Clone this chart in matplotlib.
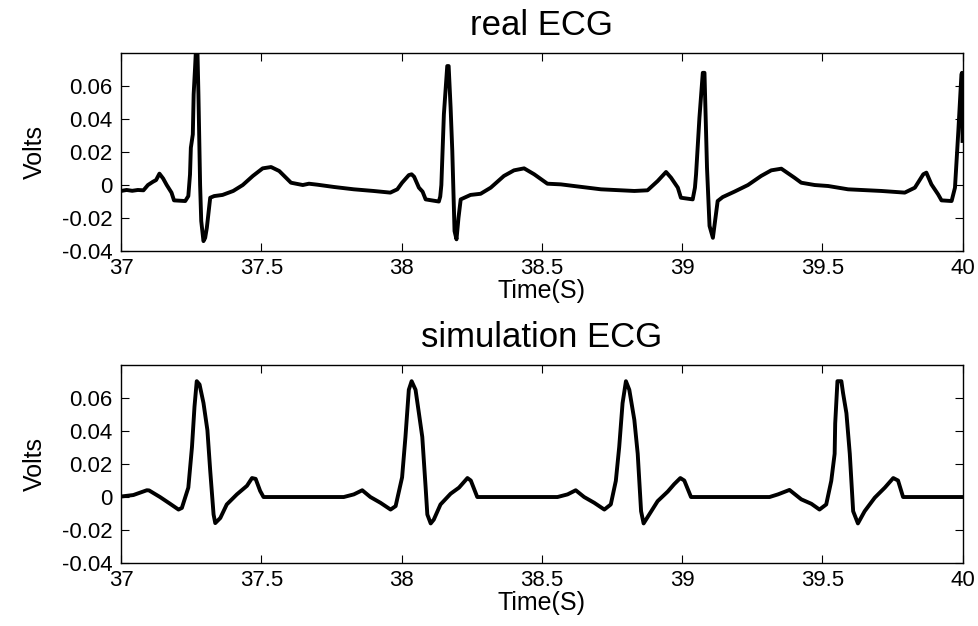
import matplotlib
matplotlib.use('Agg')
from matplotlib import pyplot as plt

plt.rcParams['font.family'] = ['Liberation Sans', 'DejaVu Sans']
plt.rcParams['axes.unicode_minus'] = False

# real ECG (time in s, volts)
t_real = [37.000, 37.020, 37.040, 37.060, 37.080, 37.096, 37.114, 37.125, 37.137, 37.150,
          37.163, 37.180, 37.189, 37.229, 37.240, 37.246, 37.249, 37.256, 37.259, 37.264,
          37.268, 37.272, 37.276, 37.282, 37.286, 37.294, 37.300, 37.306, 37.318, 37.332,
          37.362, 37.400, 37.434, 37.470, 37.505, 37.535, 37.564, 37.606, 37.648, 37.670,
          37.700, 37.760, 37.830, 37.900, 37.960, 37.985, 38.002, 38.026, 38.036, 38.045,
          38.062, 38.075, 38.086, 38.133, 38.138, 38.142, 38.151, 38.163, 38.168, 38.175,
          38.181, 38.189, 38.196, 38.203, 38.211, 38.246, 38.282, 38.318, 38.365, 38.401,
          38.437, 38.473, 38.520, 38.568, 38.615, 38.711, 38.830, 38.877, 38.913, 38.943,
          38.961, 38.985, 38.996, 39.038, 39.046, 39.050, 39.062, 39.074, 39.080, 39.089,
          39.098, 39.110, 39.127, 39.145, 39.187, 39.235, 39.282, 39.318, 39.354, 39.401,
          39.425, 39.473, 39.521, 39.592, 39.711, 39.794, 39.830, 39.860, 39.871, 39.889,
          39.913, 39.925, 39.961, 39.973, 39.985, 39.996, 39.998, 40.000]
v_real = [-0.0036, -0.0030, -0.0035, -0.0030, -0.0032, 0.0000, 0.0020, 0.0030, 0.0069, 0.0040,
          0.0000, -0.0046, -0.0093, -0.0097, -0.0067, 0.0064, 0.0226, 0.0307, 0.0550, 0.0710,
          0.0850, 0.0850, 0.0550, 0.0000, -0.0218, -0.0340, -0.0320, -0.0259, -0.0077, -0.0067,
          -0.0060, -0.0036, 0.0000, 0.0055, 0.0101, 0.0109, 0.0085, 0.0014, 0.0000, 0.0008,
          0.0002, -0.0012, -0.0026, -0.0036, -0.0046, -0.0026, 0.0014, 0.0060, 0.0065, 0.0050,
          -0.0016, -0.0040, -0.0087, -0.0100, -0.0070, 0.0000, 0.0428, 0.0721, 0.0721, 0.0469,
          0.0206, -0.0279, -0.0329, -0.0200, -0.0087, -0.0060, -0.0053, -0.0016, 0.0055, 0.0089,
          0.0101, 0.0065, 0.0008, 0.0004, -0.0006, -0.0026, -0.0036, -0.0032, 0.0024, 0.0079,
          0.0044, -0.0016, -0.0077, -0.0087, -0.0016, 0.0065, 0.0408, 0.0680, 0.0680, 0.0105,
          -0.0248, -0.0320, -0.0097, -0.0073, -0.0040, 0.0000, 0.0055, 0.0089, 0.0099, 0.0044,
          0.0014, 0.0000, -0.0006, -0.0026, -0.0036, -0.0046, -0.0016, 0.0065, 0.0075, 0.0004,
          -0.0057, -0.0093, -0.0097, -0.0016, 0.0327, 0.0670, 0.0680, 0.0267]

# simulated ECG
t_sim = [37.000, 37.044, 37.092, 37.100, 37.139, 37.175, 37.205, 37.217, 37.240, 37.253,
         37.262, 37.270, 37.280, 37.294, 37.308, 37.318, 37.330, 37.336, 37.354, 37.377,
         37.413, 37.449, 37.467, 37.480, 37.496, 37.508, 37.794, 37.830, 37.860, 37.889,
         37.925, 37.961, 37.979, 38.002, 38.014, 38.026, 38.036, 38.050, 38.062, 38.074,
         38.086, 38.092, 38.104, 38.115, 38.139, 38.175, 38.205, 38.235, 38.247, 38.270,
         38.556, 38.592, 38.621, 38.651, 38.687, 38.723, 38.746, 38.764, 38.776, 38.788,
         38.800, 38.812, 38.830, 38.842, 38.854, 38.863, 38.883, 38.913, 38.949, 38.972,
         38.994, 39.008, 39.032, 39.312, 39.342, 39.383, 39.425, 39.461, 39.490, 39.514,
         39.532, 39.544, 39.546, 39.554, 39.568, 39.574, 39.586, 39.598, 39.610, 39.627,
         39.651, 39.687, 39.723, 39.753, 39.770, 39.788, 40.000]
v_sim = [0.0003, 0.0012, 0.0041, 0.0040, 0.0000, -0.0041, -0.0076, -0.0066, 0.0057, 0.0303,
         0.0548, 0.0702, 0.0682, 0.0570, 0.0405, 0.0160, -0.0106, -0.0158, -0.0127, -0.0045,
         0.0016, 0.0068, 0.0115, 0.0110, 0.0037, 0.0000, 0.0000, 0.0016, 0.0041, 0.0000,
         -0.0035, -0.0076, -0.0055, 0.0119, 0.0364, 0.0650, 0.0702, 0.0650, 0.0508, 0.0364,
         0.0057, -0.0106, -0.0160, -0.0137, -0.0045, 0.0020, 0.0057, 0.0115, 0.0100, 0.0000,
         0.0000, 0.0016, 0.0041, 0.0000, -0.0035, -0.0076, -0.0045, 0.0098, 0.0303, 0.0569,
         0.0702, 0.0650, 0.0467, 0.0262, -0.0086, -0.0160, -0.0106, -0.0025, 0.0033, 0.0078,
         0.0115, 0.0100, 0.0000, 0.0000, 0.0016, 0.0043, -0.0014, -0.0041, -0.0076, -0.0045,
         0.0098, 0.0262, 0.0446, 0.0702, 0.0702, 0.0630, 0.0508, 0.0262, -0.0086, -0.0160,
         -0.0086, -0.0004, 0.0057, 0.0115, 0.0100, 0.0000, 0.0000]

x_ticks = [37, 37.5, 38, 38.5, 39, 39.5, 40]
y_ticks = [-0.04, -0.02, 0, 0.02, 0.04, 0.06]
titles = ['real ECG', 'simulation ECG']


def style_axes(ax, title):
    ax.set_xlim(37, 40)
    ax.set_ylim(-0.04, 0.08)
    ax.set_xticks(x_ticks)
    ax.set_xticklabels(['%g' % v for v in x_ticks])
    ax.set_yticks(y_ticks)
    ax.set_yticklabels(['%g' % v for v in y_ticks])
    ax.tick_params(direction='in', top=True, right=True, length=6, width=0.8,
                   labelsize=16)
    ax.tick_params(axis='x', pad=5)
    ax.tick_params(axis='y', pad=6)
    for s in ax.spines.values():
        s.set_linewidth(1.0)
    ax.set_title(title, fontsize=25, pad=13)
    ax.set_xlabel('Time(S)', fontsize=18, labelpad=0)
    ax.set_ylabel('Volts', fontsize=18, labelpad=11)


def main():
    fig = plt.figure(figsize=(9.79, 6.26), dpi=100)
    ax1 = fig.add_axes([0.1236, 0.599, 0.8596, 0.3163])
    ax2 = fig.add_axes([0.1236, 0.1006, 0.8596, 0.3163])

    ax1.plot(t_real, v_real, color='black', lw=2.8, solid_joinstyle='round')
    ax2.plot(t_sim, v_sim, color='black', lw=2.8, solid_joinstyle='round')

    style_axes(ax1, titles[0])
    style_axes(ax2, titles[1])

    fig.savefig('out.png', dpi=100)


if __name__ == '__main__':
    main()
